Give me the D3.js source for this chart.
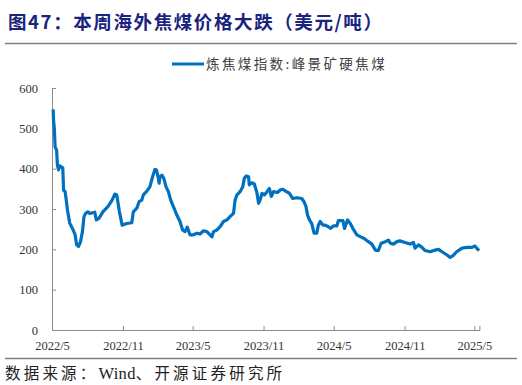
<!DOCTYPE html>
<html><head><meta charset="utf-8">
<script src="https://cdn.jsdelivr.net/npm/d3@7"></script>
<style>body{margin:0;background:#fff}svg{display:block}</style>
</head><body><svg id="c" width="522" height="385"></svg>
<script>
const titleText = "图47：本周海外焦煤价格大跌（美元/吨）";
const seriesName = "炼焦煤指数:峰景矿硬焦煤";
const sourceParts = ["数据来源：", "Wind", "、开源证券研究所"];
const yTicks = [0,100,200,300,400,500,600];
const xTickDates = ["2022-05-01","2022-11-01","2023-05-01","2023-11-01","2024-05-01","2024-11-01","2025-05-01"];
const dates = ["2022-05-04","2022-05-05","2022-05-07","2022-05-08","2022-05-09","2022-05-13","2022-05-15","2022-05-18","2022-05-21","2022-05-29","2022-05-31","2022-06-04","2022-06-07","2022-06-10","2022-06-16","2022-06-25","2022-06-30","2022-07-04","2022-07-09","2022-07-14","2022-07-19","2022-07-23","2022-07-27","2022-08-02","2022-08-07","2022-08-20","2022-08-24","2022-08-31","2022-09-10","2022-09-23","2022-10-04","2022-10-11","2022-10-16","2022-10-23","2022-10-30","2022-11-11","2022-11-24","2022-11-28","2022-12-07","2022-12-13","2022-12-20","2022-12-24","2023-01-01","2023-01-10","2023-01-17","2023-01-23","2023-01-27","2023-02-01","2023-02-03","2023-02-05","2023-02-10","2023-02-15","2023-02-21","2023-02-27","2023-03-05","2023-03-12","2023-03-21","2023-03-29","2023-04-05","2023-04-11","2023-04-17","2023-04-24","2023-05-03","2023-05-12","2023-05-20","2023-05-29","2023-06-07","2023-06-15","2023-06-20","2023-06-24","2023-07-03","2023-07-11","2023-07-20","2023-07-29","2023-08-06","2023-08-15","2023-08-19","2023-08-24","2023-09-01","2023-09-08","2023-09-12","2023-09-17","2023-09-23","2023-09-25","2023-10-02","2023-10-08","2023-10-15","2023-10-19","2023-10-23","2023-10-28","2023-11-03","2023-11-10","2023-11-16","2023-11-21","2023-11-27","2023-12-07","2023-12-14","2023-12-21","2023-12-30","2024-01-07","2024-01-16","2024-01-26","2024-02-08","2024-02-14","2024-02-19","2024-02-23","2024-02-28","2024-03-05","2024-03-11","2024-03-18","2024-03-22","2024-03-27","2024-04-03","2024-04-09","2024-04-17","2024-04-23","2024-04-30","2024-05-09","2024-05-13","2024-05-25","2024-05-29","2024-06-06","2024-06-13","2024-06-22","2024-06-30","2024-07-10","2024-07-19","2024-07-30","2024-08-08","2024-08-17","2024-08-25","2024-09-01","2024-09-12","2024-09-20","2024-09-25","2024-10-03","2024-10-12","2024-10-20","2024-11-02","2024-11-15","2024-11-24","2024-11-28","2024-12-07","2024-12-16","2024-12-24","2025-01-06","2025-01-19","2025-01-28","2025-02-06","2025-02-19","2025-02-27","2025-03-06","2025-03-16","2025-03-30","2025-04-12","2025-04-25","2025-05-03","2025-05-07","2025-05-13"];
const values = [547,520,500,479,454,446,409,397,407,402,347,343,322,298,265,248,236,211,207,219,244,281,289,293,289,292,273,277,293,306,322,337,335,293,260,264,266,293,302,318,322,335,343,355,380,398,397,376,364,380,384,376,355,343,322,306,285,269,248,244,255,236,236,240,238,246,244,236,231,244,248,256,269,273,281,289,322,335,343,355,376,382,380,360,365,362,339,314,322,339,335,343,351,331,343,341,347,349,343,339,326,328,326,318,306,285,273,264,240,240,260,269,260,260,256,252,258,258,271,271,252,273,264,248,236,231,227,219,213,198,197,215,219,223,215,213,219,221,217,213,217,203,211,205,197,194,198,200,194,186,180,184,194,203,205,205,208,203,197];

const parse = d3.timeParse("%Y-%m-%d");
const data = dates.map((d,i)=>({date:parse(d), value:values[i]}));
const svg = d3.select("#c");

svg.append("text").attr("x",8).attr("y",29)
  .attr("font-family","'Noto Sans CJK SC'").attr("font-weight","bold")
  .attr("font-size",18.5).attr("letter-spacing",1.6).attr("fill","#1a237e").text(titleText);
svg.append("line").attr("x1",5).attr("x2",517).attr("y1",43.5).attr("y2",43.5)
  .attr("stroke","#7f7f7f").attr("stroke-width",1.5);
svg.append("line").attr("x1",5).attr("x2",517).attr("y1",358.5).attr("y2",358.5)
  .attr("stroke","#7f7f7f").attr("stroke-width",1.5);

const x = d3.scaleTime().domain([parse("2022-05-01"), parse("2025-05-14")]).range([52,479.4]);
const y = d3.scaleLinear().domain([0,600]).range([330,88]);

// y axis
const ya = svg.append("g").attr("transform","translate(52,0)")
  .call(d3.axisRight(y).tickValues(yTicks).tickSize(4).tickFormat(d3.format("d")));
ya.select(".domain").attr("stroke","#8c8c8c");
ya.selectAll(".tick line").attr("stroke","#8c8c8c");
ya.selectAll(".tick text").attr("x",-14).attr("text-anchor","end")
  .attr("font-family","'Liberation Serif'").attr("font-size",12.5).attr("fill","#333");

// x axis
const xa = svg.append("g").attr("transform","translate(0,330)")
  .call(d3.axisTop(x).tickValues(xTickDates.map(parse)).tickSize(4).tickFormat(d3.timeFormat("%Y/%-m")));
xa.select(".domain").attr("stroke","#8c8c8c");
xa.selectAll(".tick line").attr("stroke","#8c8c8c");
xa.selectAll(".tick text").attr("y",19.5).attr("dy",0)
  .attr("font-family","'Liberation Serif'").attr("font-size",12.5).attr("fill","#333");

// line
svg.append("path").datum(data)
  .attr("fill","none").attr("stroke","#0070c0").attr("stroke-width",3.2)
  .attr("stroke-linejoin","round")
  .attr("d", d3.line().x(d=>x(d.date)).y(d=>y(d.value)));

// legend
svg.append("line").attr("x1",172).attr("x2",204).attr("y1",64).attr("y2",64)
  .attr("stroke","#0070c0").attr("stroke-width",3);
svg.append("text").attr("x",206).attr("y",69)
  .attr("font-family","'Noto Sans CJK SC'").attr("font-size",13.5).attr("letter-spacing",2.4)
  .attr("fill","#404040").text(seriesName);

const src = svg.append("text").attr("x",5).attr("y",379)
  .attr("font-family","'Noto Sans CJK SC'").attr("font-size",15.5).attr("fill","#222");
src.append("tspan").attr("letter-spacing",3.2).text(sourceParts[0]);
src.append("tspan").attr("font-family","'Liberation Serif'").attr("font-size",16.5).attr("letter-spacing",0.3).text(sourceParts[1]);
src.append("tspan").attr("letter-spacing",3.2).text(sourceParts[2]);
</script></body></html>
